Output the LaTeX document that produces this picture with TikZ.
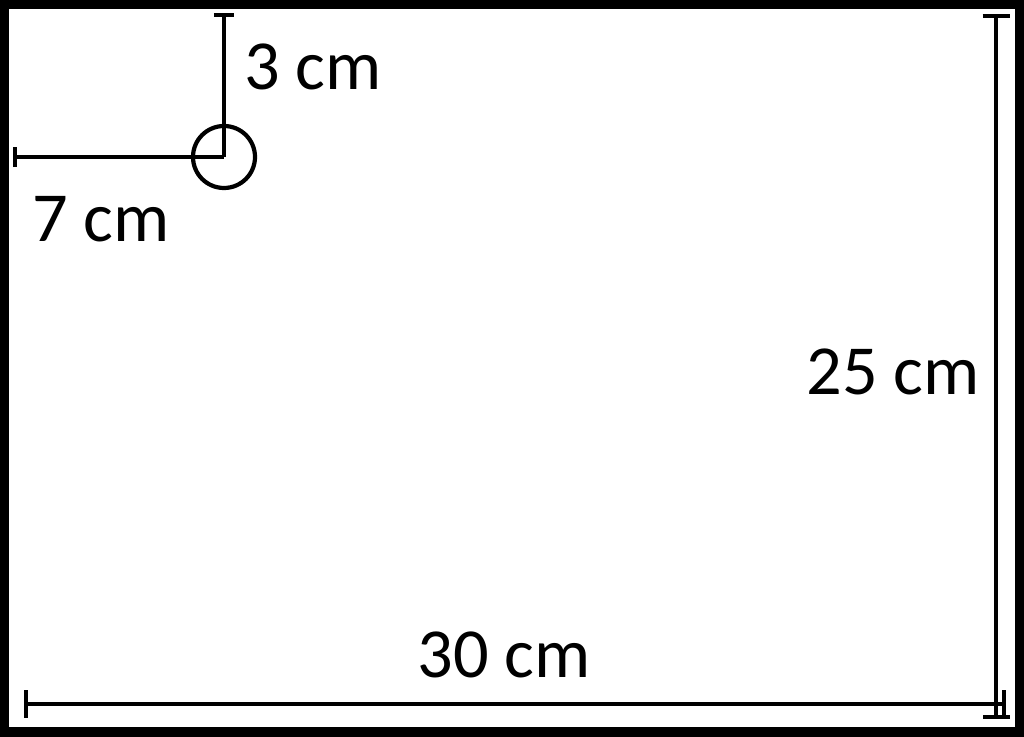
\documentclass[tikz,border=0pt]{standalone}
\usepackage{fontspec}
\setmainfont{Carlito}
\usetikzlibrary{arrows.meta}

\begin{document}
\begin{tikzpicture}[x=0.01cm,y=-0.01cm,
        dim/.style={line width=1.2pt},
        lbl/.style={font=\fontsize{20}{24}\selectfont, inner sep=0pt}]
        \useasboundingbox (0,0) rectangle (1024,737);
        \draw[line width=2.6pt] (4,4) rectangle (1020,732);
        % hole and its distances to the edges
        \draw[dim] (224,157) circle [radius=31];
        \draw[dim, {Bar[width=2mm]}-] (224,13) -- (224,157);
        \draw[dim, {Bar[width=2mm]}-] (13,157) -- (224,157);
        \node (top) at (313,90) [lbl, anchor=base] {3 cm};
        \node (left) at (101,242) [lbl, anchor=base] {7 cm};
        % sheet size
        \draw[dim, {Bar[width=2.7mm]}-{Bar[width=2.7mm]}] (996,14) -- (996,719);
        \draw[dim, {Bar[width=2.7mm]}-{Bar[width=2.7mm]}] (24,704) -- (1006,704);
        \node (height) at (893,395) [lbl, anchor=base] {25 cm};
        \node (width) at (504,677) [lbl, anchor=base] {30 cm};
    \end{tikzpicture}
\end{document}
